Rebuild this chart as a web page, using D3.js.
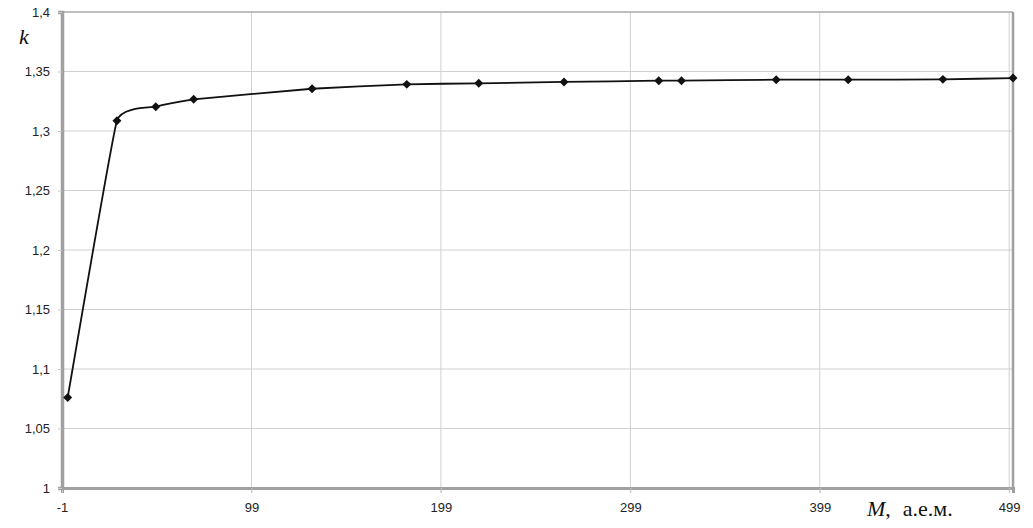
<!DOCTYPE html>
<html>
<head>
<meta charset="utf-8">
<script src="https://cdn.jsdelivr.net/npm/d3@7"></script>
<style>
  body { margin: 0; background: #fff; }
  svg { display: block; }
</style>
</head>
<body>
<svg id="chart" width="1033" height="528"></svg>
<script>
// Data
const massValues = [2, 28, 48.5, 68.5, 131, 181, 219, 264, 314, 326, 376, 414, 464, 501];
const kValues = [1.076, 1.3086, 1.3204, 1.3266, 1.3355, 1.3392, 1.3401, 1.3412, 1.3423, 1.3423, 1.3431, 1.3431, 1.3434, 1.3445];
const xTicks = [-1, 99, 199, 299, 399, 499];
const yTicks = [1, 1.05, 1.1, 1.15, 1.2, 1.25, 1.3, 1.35, 1.4];
const xDomain = [-1, 501];
const yDomain = [1, 1.4];

const svg = d3.select("#chart");
const margin = { left: 62, right: 20, top: 12, bottom: 40 };
const W = 1033, H = 528;

const x = d3.scaleLinear().domain(xDomain).range([margin.left, W - margin.right]);
const y = d3.scaleLinear().domain(yDomain).range([H - margin.bottom, margin.top]);

const fmtY = d => String(d).replace(".", ",");

// Grid lines
svg.append("g")
  .selectAll("line")
  .data(yTicks.filter(d => d > 1))
  .join("line")
  .attr("x1", x(xDomain[0])).attr("x2", x(xDomain[1]))
  .attr("y1", d => y(d)).attr("y2", d => y(d))
  .attr("stroke", "#d0d0d0").attr("stroke-width", 1);

svg.append("g")
  .selectAll("line")
  .data(xTicks.filter(d => d > -1))
  .join("line")
  .attr("x1", d => x(d)).attr("x2", d => x(d))
  .attr("y1", y(yDomain[1])).attr("y2", y(yDomain[0]) + 5)
  .attr("stroke", "#d0d0d0").attr("stroke-width", 1);

// Frame
svg.append("line")
  .attr("x1", x(xDomain[0])).attr("x2", x(xDomain[1]))
  .attr("y1", y(yDomain[1])).attr("y2", y(yDomain[1]))
  .attr("stroke", "#b0b0b0").attr("stroke-width", 1.5);
svg.append("line")
  .attr("x1", x(xDomain[1])).attr("x2", x(xDomain[1]))
  .attr("y1", y(yDomain[1])).attr("y2", y(yDomain[0]))
  .attr("stroke", "#a0a0a0").attr("stroke-width", 2.5);

// Axes
const xAxis = d3.axisBottom(x).tickValues(xTicks).tickSize(5).tickPadding(10).tickFormat(d => String(d));
const yAxis = d3.axisLeft(y).tickValues(yTicks).tickSize(4).tickPadding(8).tickFormat(fmtY);

const gx = svg.append("g").attr("transform", `translate(0,${y(yDomain[0])})`).call(xAxis);
const gy = svg.append("g").attr("transform", `translate(${x(xDomain[0])},0)`).call(yAxis);

[gx, gy].forEach(g => {
  g.select(".domain").attr("stroke", "#a0a0a0").attr("stroke-width", 3);
  g.selectAll(".tick line").attr("stroke", "#c8c8c8");
  g.selectAll(".tick text")
    .attr("font-family", "Liberation Sans, Arial, sans-serif")
    .attr("font-size", 13)
    .attr("fill", "#222");
});
gy.select(".domain").attr("stroke-width", 3.5);

// Curve
const pts = massValues.map((m, i) => [m, kValues[i]]);
const line = d3.line()
  .x(d => x(d[0])).y(d => y(d[1]))
  .curve(d3.curveCardinal.tension(0.7));

svg.append("path")
  .datum(pts)
  .attr("d", line)
  .attr("fill", "none")
  .attr("stroke", "#111")
  .attr("stroke-width", 1.8);

// Markers (diamonds)
svg.append("g")
  .selectAll("path")
  .data(pts)
  .join("path")
  .attr("transform", d => `translate(${x(d[0])},${y(d[1])}) rotate(45)`)
  .attr("d", d3.symbol(d3.symbolSquare, 40))
  .attr("fill", "#111");

// Axis titles
svg.append("text")
  .attr("x", 19).attr("y", 44)
  .attr("font-family", "Liberation Serif, Times New Roman, serif")
  .attr("font-style", "italic")
  .attr("font-size", 22)
  .attr("fill", "#111")
  .text("k");

const xt = svg.append("text")
  .attr("x", 867).attr("y", 516)
  .attr("font-family", "Liberation Serif, Times New Roman, serif")
  .attr("font-size", 22)
  .attr("fill", "#111");
xt.append("tspan").attr("font-style", "italic").text("M");
xt.append("tspan").text(",");
xt.append("tspan").attr("dx", 12).text("а.е.м.");
</script>
</body>
</html>
